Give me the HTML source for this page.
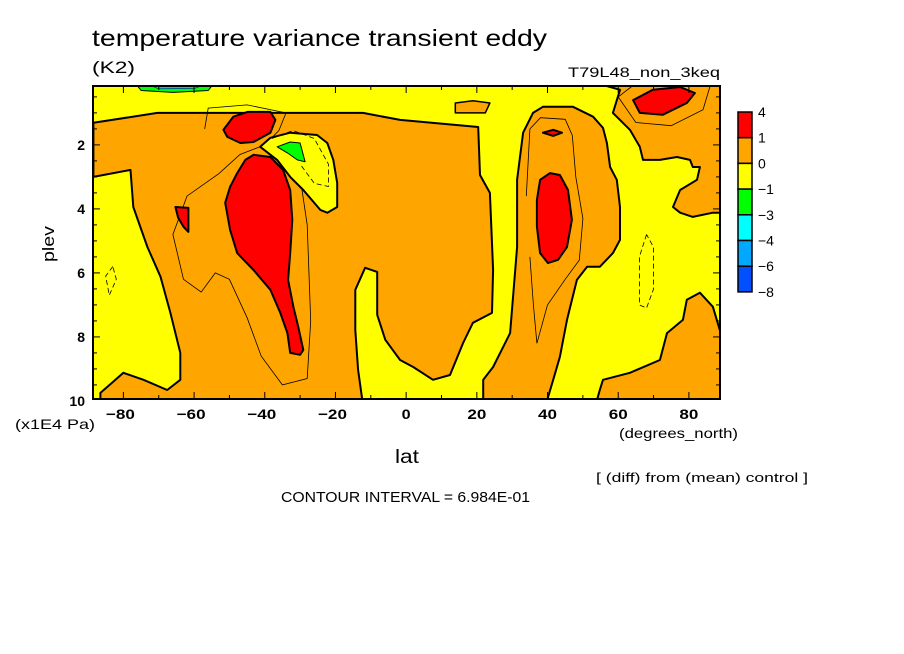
<!DOCTYPE html>
<html><head><meta charset="utf-8"><style>
html,body{margin:0;padding:0;background:#fff;}
svg{display:block;font-family:"Liberation Sans",sans-serif;}
</style></head><body>
<svg id="chart" width="904" height="654" viewBox="0 0 904 654">
<text x="92" y="46" font-size="23" textLength="455" lengthAdjust="spacingAndGlyphs">temperature variance transient eddy</text>
<text x="92" y="73" font-size="17" textLength="43" lengthAdjust="spacingAndGlyphs">(K2)</text>
<text x="568" y="77" font-size="14" textLength="152" lengthAdjust="spacingAndGlyphs">T79L48_non_3keq</text>
<defs><clipPath id="pc"><rect x="93" y="86" width="627" height="313"/></clipPath></defs>
<g id="plot" clip-path="url(#pc)"></g>
<rect x="93" y="86" width="627" height="313" fill="none" stroke="#000" stroke-width="2"/>
<g id="axes"></g>
<g id="cbar"></g>
<text x="54" y="244" font-size="17" text-anchor="middle" textLength="36" lengthAdjust="spacingAndGlyphs" transform="rotate(-90 54 244)">plev</text>
<text x="15" y="429" font-size="14" textLength="80" lengthAdjust="spacingAndGlyphs">(x1E4 Pa)</text>
<text x="395" y="463" font-size="19" textLength="24" lengthAdjust="spacingAndGlyphs">lat</text>
<text x="619" y="438" font-size="14" textLength="119" lengthAdjust="spacingAndGlyphs">(degrees_north)</text>
<text x="596" y="482" font-size="13" textLength="212" lengthAdjust="spacingAndGlyphs">[ (diff) from (mean) control ]</text>
<text x="281" y="502" font-size="15" textLength="249" lengthAdjust="spacingAndGlyphs">CONTOUR INTERVAL = 6.984E-01</text>
</svg>
<script>
// axis data
const latTicks = [-80,-60,-40,-20,0,20,40,60,80];
const plevTicks = [2,4,6,8,10];
const cbarLabels = ["4","1","0","\u22121","\u22123","\u22124","\u22126","\u22128"];
const cbarColors = ["#ff0000","#ffa500","#ffff00","#00ff00","#00ffff","#00a8ff","#0050ff"];
// contour region data [lat, plev]
const orangeMain = [[-88.5,1.31],[-70.4,1],[-12.2,1],[-1.7,1.22],[20.4,1.44],[20.9,2.94],[23.7,3.5],[24.6,5.91],[24.3,7.25],[18.9,7.56],[16.1,8.19],[12.4,9.19],[7.6,9.34],[2,8.94],[-1.7,8.72],[-5.9,8.09],[-8.2,7.31],[-8.2,5.97],[-11.6,5.84],[-14.4,6.53],[-14.4,7.78],[-13.6,9.03],[-12.4,9.97],[-86.5,9.97],[-86.5,9.75],[-80,9.12],[-74.3,9.34],[-67.6,9.66],[-63.9,9.34],[-63.9,8.5],[-66.7,7.25],[-69.5,6.12],[-73.2,5.19],[-77.2,3.94],[-78,2.78],[-88.5,3]];
const orangeColumn = [[33.1,1.62],[35.9,1],[38.7,0.81],[47.2,0.81],[52.9,1.12],[55.7,1.47],[56.8,1.94],[57.7,2.69],[59.6,3.09],[60.5,3.94],[60.5,4.97],[58.5,5.38],[54.8,5.81],[51.2,5.81],[48.3,6.22],[45.5,7.47],[43.5,8.62],[41.6,9.34],[39.9,9.97],[21.8,9.97],[21.8,9.34],[24.6,8.94],[29.4,7.88],[31.4,5.19],[31.4,3.09]];
const orangeTopRight = [[54.8,0.1],[60.5,0.28],[58.5,1],[63.3,1.53],[66.1,2.06],[67,2.47],[71.8,2.47],[76.6,2.38],[80.3,2.47],[81.1,2.69],[83.1,2.69],[82.3,3.09],[77.5,3.41],[75.5,3.94],[77.5,4.12],[81.1,4.25],[86.8,4.12],[89,4.12],[89,0.1]];
const orangeBottomRight = [[89,7.88],[86.8,7.06],[83.1,6.62],[79.4,6.84],[78.3,7.47],[73.8,7.88],[71.8,8.72],[63.3,9.12],[55.7,9.34],[54.8,9.66],[54,9.97],[89,9.97]];
const orangeBlob = [[13.9,0.69],[18.9,0.62],[23.7,0.69],[22.4,1],[13.9,1]];
const yellowLobe = [[-41.3,2.06],[-38.4,1.78],[-32.8,1.62],[-25.2,1.69],[-22.3,1.94],[-20.6,2.47],[-19.5,3.19],[-19.5,3.94],[-22.3,4.12],[-24.3,4.03],[-29.1,3.41],[-32.8,3],[-36.5,2.47]];
const greenLobe = [[-36.5,2.06],[-32.8,1.91],[-30,1.94],[-28.6,2.53],[-30.8,2.47],[-33.6,2.25]];
const topBandGreen = [[-76,0.16],[-55,0.16],[-56,0.3],[-66,0.36],[-75,0.3]];
const topBandCyan = [[-72,0.16],[-58,0.16],[-60,0.24],[-70,0.25]];
const redRegions = [
 [[-51.7,1.53],[-48.9,1.12],[-44.9,0.97],[-38.4,0.97],[-37,1.22],[-38.4,1.62],[-43.2,1.91],[-46.9,1.94],[-50.6,1.75]],
 [[-43.2,2.31],[-38.4,2.38],[-34.8,2.78],[-32.8,3.41],[-32.2,4.34],[-32.8,5.38],[-33.4,6.22],[-31.9,7.06],[-30.5,7.69],[-29.1,8.41],[-30,8.56],[-32.8,8.5],[-33.6,7.88],[-35.6,7.25],[-38.4,6.53],[-43.2,5.91],[-47.8,5.38],[-49.8,4.66],[-51.2,3.81],[-49.8,3.31],[-47.8,2.88],[-45.5,2.47]],
 [[-65.3,3.94],[-61.6,3.97],[-61.6,4.72],[-63,4.56],[-64.5,4.28]],
 [[37.9,3.09],[40.7,2.88],[43.5,2.94],[45.8,3.41],[46.9,4.34],[45.5,5.19],[43,5.59],[40.1,5.69],[37.9,5.38],[37,4.56],[37,3.72]],
 [[64.2,0.6],[69.8,0.28],[77.5,0.19],[81.7,0.38],[79.4,0.69],[72.6,1.06],[66.1,1]],
 [[38.7,1.62],[41.6,1.53],[44.1,1.62],[41.6,1.72]]
];
// thin inner contour lines (1.4 level)
const thinLines = [
 [[-57,1.5],[-56,0.85],[-45,0.75],[-34,1.0],[-36,1.55],[-40,2.0],[-47,2.3],[-53,2.9],[-62,3.6],[-66,4.8],[-63,6.2],[-58,6.6],[-54,6.0],[-50,6.2],[-45,7.4],[-41,8.6],[-35,9.5],[-28,9.3],[-27,7.5],[-28,4.5],[-30,3.0]],
 [[34,3.6],[35,1.5],[38,1.15],[45,1.2],[47,1.7],[48,3.0],[50,4.3],[49,5.6],[45,6.2],[40,7.0],[37,8.2],[36,7.0],[35,5.5]],
 [[60,0.5],[64,0.16]],[[60,0.5],[65,1.3],[75,1.4],[84,0.9],[86,0.16]]
];
const dashedLines = [
 [[-83,5.8],[-85,6.1],[-84,6.7],[-82,6.2],[-83,5.8]],
 [[68,4.8],[66,5.5],[66,7.0],[68,7.1],[70,6.5],[70,5.2],[68,4.8]],
 [[-38,1.8],[-32,1.55],[-26,1.8],[-22,2.6],[-22,3.3],[-26,3.2],[-30,2.6]]
];
const NS="http://www.w3.org/2000/svg";
const X0=93,X1=720,Y0=86,Y1=399,LAT0=-88.6,LAT1=88.8,P0=0.16,P1=9.94;
function xs(l){return X0+(l-LAT0)/(LAT1-LAT0)*(X1-X0);}
function ys(p){return Y0+(p-P0)/(P1-P0)*(Y1-Y0);}
const plot=document.getElementById('plot');
function pts(a){return a.map(q=>xs(q[0]).toFixed(1)+','+ys(q[1]).toFixed(1)).join(' ');}
function poly(p,fill,sw,name){
 const e=document.createElementNS(NS,'polygon');
 e.setAttribute('points',pts(p));
 e.setAttribute('fill',fill);e.setAttribute('stroke','#000');e.setAttribute('stroke-width',sw);e.setAttribute('stroke-linejoin','round');
 
 
 plot.appendChild(e);return e;
}
function pline(p,dash,name){
 const e=document.createElementNS(NS,'polyline');
 e.setAttribute('points',pts(p));
 e.setAttribute('fill','none');e.setAttribute('stroke','#000');e.setAttribute('stroke-width',0.8);
 if(dash)e.setAttribute('stroke-dasharray','5,3');
 
 
 plot.appendChild(e);
}
const bg=document.createElementNS(NS,'rect');
bg.setAttribute('x',X0);bg.setAttribute('y',Y0);bg.setAttribute('width',X1-X0);bg.setAttribute('height',Y1-Y0);bg.setAttribute('fill','#ffff00');


plot.appendChild(bg);
poly(orangeMain,'#ffa500',2,'orange-region-main');
poly(orangeColumn,'#ffa500',2,'orange-region-column');
poly(orangeTopRight,'#ffa500',2,'orange-region-top-right');
poly(orangeBottomRight,'#ffa500',2,'orange-region-bottom-right');
poly(orangeBlob,'#ffa500',1.5,'orange-region-blob');
thinLines.forEach(l=>pline(l,false,'contour-line'));
poly(yellowLobe,'#ffff00',2,'yellow-lobe');
dashedLines.forEach(l=>pline(l,true,'negative-contour-line'));
poly(greenLobe,'#00ff00',1,'green-lobe');
poly(topBandGreen,'#00ff00',1,'top-negative-band');
poly(topBandCyan,'#00c0ff',0.5,'top-negative-core');
redRegions.forEach((r,i)=>{poly(r,'#ff0000',2,'red-region-'+i);});
// axes
const ax=document.getElementById('axes');
function line(x1,y1,x2,y2,name){const e=document.createElementNS(NS,'line');e.setAttribute('x1',x1);e.setAttribute('y1',y1);e.setAttribute('x2',x2);e.setAttribute('y2',y2);e.setAttribute('stroke','#000');e.setAttribute('stroke-width',1);
 
 
 ax.appendChild(e);}
function txt(x,y,s,anchor,size,name,len){const e=document.createElementNS(NS,'text');e.setAttribute('x',x);e.setAttribute('y',y);e.setAttribute('text-anchor',anchor);e.setAttribute('font-size',size);e.setAttribute('font-weight','bold');e.textContent=s;
 if(len){e.setAttribute('textLength',len);e.setAttribute('lengthAdjust','spacingAndGlyphs');}
 
 
 ax.appendChild(e);}
for(let l=-80;l<=80;l+=10){const x=xs(l);line(x,Y1,x,Y1-(l%20===0?7:4),'x-tick');line(x,Y0,x,Y0+(l%20===0?7:4),'x-tick-top');}
latTicks.forEach(l=>{const s=(l<0?'\u2212':'')+Math.abs(l);txt(xs(l)+(l<0?-3:0),419,s,'middle',14,'x-tick-label',l<0?29:(l===0?9:19));});
for(let p=0.5;p<=9.5;p+=0.5){const y=ys(p);line(X0,y,X0+(p%2===0?7:4),y,'y-tick');line(X1,y,X1-(p%2===0?7:4),y,'y-tick-right');}
plevTicks.forEach(p=>{txt(85,ys(p)+5,String(p),'end',14,'y-tick-label');});
// colorbar
const cb=document.getElementById('cbar');const bh=25.7;
cbarColors.forEach((c,i)=>{const r=document.createElementNS(NS,'rect');r.setAttribute('x',738);r.setAttribute('y',112+i*bh);r.setAttribute('width',14);r.setAttribute('height',bh);r.setAttribute('fill',c);r.setAttribute('stroke','#000');r.setAttribute('stroke-width',1.5);
 
 
 cb.appendChild(r);});
cbarLabels.forEach((s,i)=>{const t=document.createElementNS(NS,'text');t.setAttribute('x',758);t.setAttribute('y',112+i*bh+5);t.setAttribute('font-size',14);t.textContent=s;
 
 
 cb.appendChild(t);});
</script>
</body></html>
